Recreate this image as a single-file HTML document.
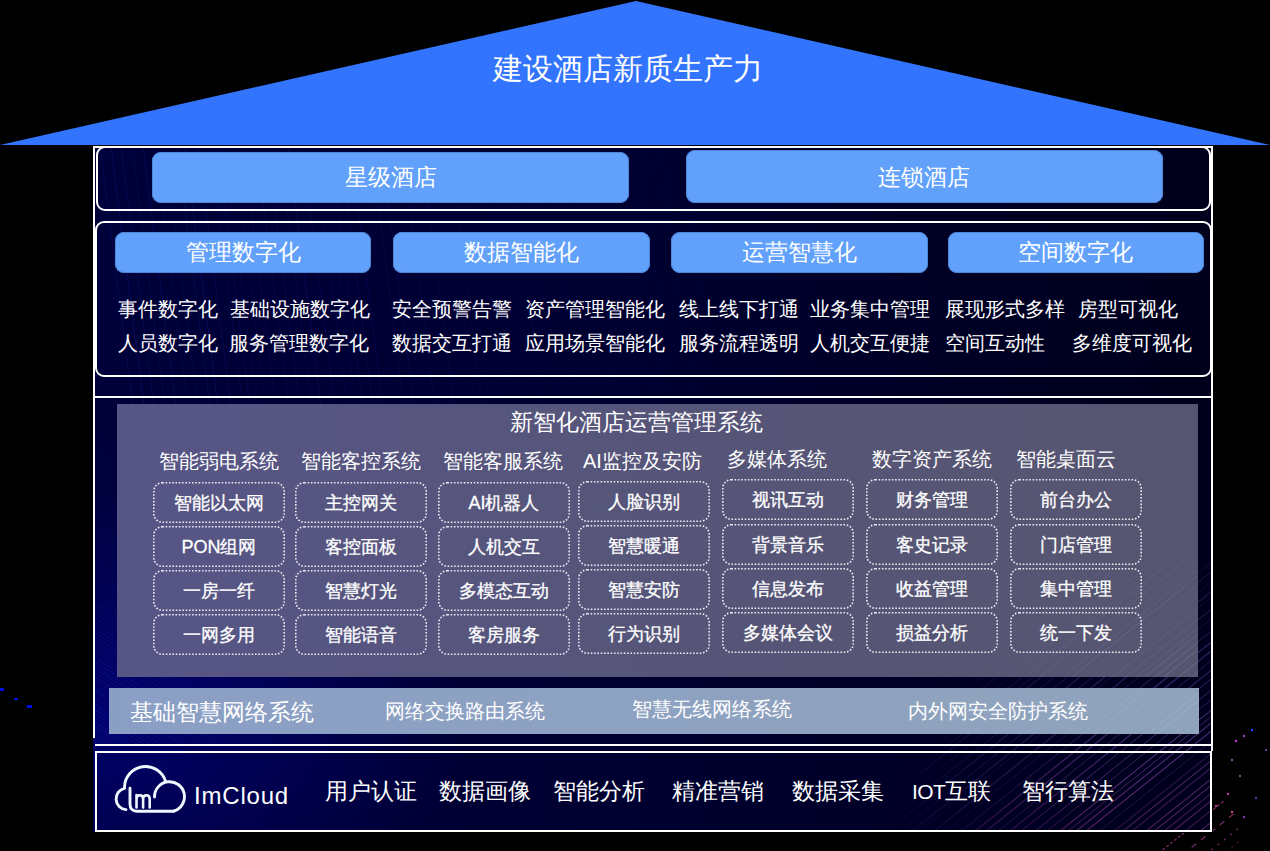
<!DOCTYPE html>
<html><head><meta charset="utf-8">
<style>
*{margin:0;padding:0;box-sizing:border-box}
html,body{width:1270px;height:851px;background:#000;overflow:hidden;position:relative;font-family:"Liberation Sans",sans-serif;color:#fff}
.a{position:absolute}
.serif{font-family:"Liberation Serif",serif}
.t{position:absolute;white-space:nowrap;line-height:1}
.btn{position:absolute;background:#62a1fb;border-radius:9px;box-shadow:inset 0 0 0 1px #4f86d6}
.box{position:absolute;width:132px;height:41px;display:flex;align-items:center;justify-content:center;font-size:18px;line-height:1;white-space:nowrap;-webkit-text-stroke:0.3px #fff}
</style></head><body>
<!-- roof -->
<svg class="a" style="left:0;top:0" width="1270" height="160">
  <polygon points="0,145 636,1 1270,145" fill="#3274fe"/>
</svg>
<div class="t serif" style="left:493px;top:54px;font-size:30px">建设酒店新质生产力</div>

<!-- frame background -->
<div class="a" style="left:93px;top:146px;width:1119px;height:686px;background:radial-gradient(ellipse 380px 230px at 10px 570px,rgba(0,0,140,0.6),rgba(0,0,140,0) 100%),linear-gradient(90deg,#00003a 0%,#000030 50%,#00001c 100%)"></div>
<svg class="a" style="left:0;top:0" width="1270" height="851">
 <defs>
  <linearGradient id="lg" gradientUnits="userSpaceOnUse" x1="0" y1="660" x2="0" y2="840"><stop offset="0" stop-color="#5a5ab8"/><stop offset="0.5" stop-color="#7a48a8"/><stop offset="1" stop-color="#a83a90"/></linearGradient>
  <radialGradient id="rg" gradientUnits="userSpaceOnUse" cx="1215" cy="835" r="330"><stop offset="0" stop-color="#fff"/><stop offset="0.4" stop-color="#aaa"/><stop offset="1" stop-color="#000"/></radialGradient>
  <mask id="mk"><rect x="0" y="0" width="1270" height="851" fill="url(#rg)"/></mask>
  <clipPath id="cin"><rect x="95" y="398" width="1116" height="433"/></clipPath>
 </defs>
 <g clip-path="url(#cin)" mask="url(#mk)" stroke="url(#lg)" opacity="0.85">
<line x1="500" y1="900" x2="925" y2="560" stroke-opacity="0.58" stroke-width="1"/>
<line x1="510" y1="900" x2="935" y2="560" stroke-opacity="0.78" stroke-width="0.9"/>
<line x1="522" y1="900" x2="947" y2="560" stroke-opacity="0.95" stroke-width="1.3"/>
<line x1="532" y1="900" x2="957" y2="560" stroke-opacity="0.58" stroke-width="1.3"/>
<line x1="543" y1="900" x2="968" y2="560" stroke-opacity="0.75" stroke-width="1.3"/>
<line x1="556" y1="900" x2="981" y2="560" stroke-opacity="0.53" stroke-width="1"/>
<line x1="570" y1="900" x2="995" y2="560" stroke-opacity="0.74" stroke-width="0.9"/>
<line x1="582" y1="900" x2="1007" y2="560" stroke-opacity="0.49" stroke-width="0.9"/>
<line x1="592" y1="900" x2="1017" y2="560" stroke-opacity="0.47" stroke-width="1.1"/>
<line x1="603" y1="900" x2="1028" y2="560" stroke-opacity="0.85" stroke-width="1.3"/>
<line x1="616" y1="900" x2="1041" y2="560" stroke-opacity="0.96" stroke-width="1.3"/>
<line x1="629" y1="900" x2="1054" y2="560" stroke-opacity="0.77" stroke-width="1"/>
<line x1="643" y1="900" x2="1068" y2="560" stroke-opacity="0.50" stroke-width="1"/>
<line x1="654" y1="900" x2="1079" y2="560" stroke-opacity="0.59" stroke-width="1.3"/>
<line x1="667" y1="900" x2="1092" y2="560" stroke-opacity="0.92" stroke-width="1.3"/>
<line x1="679" y1="900" x2="1104" y2="560" stroke-opacity="0.66" stroke-width="1.1"/>
<line x1="690" y1="900" x2="1115" y2="560" stroke-opacity="0.67" stroke-width="1"/>
<line x1="705" y1="900" x2="1130" y2="560" stroke-opacity="0.83" stroke-width="0.9"/>
<line x1="718" y1="900" x2="1143" y2="560" stroke-opacity="1.00" stroke-width="1"/>
<line x1="731" y1="900" x2="1156" y2="560" stroke-opacity="0.63" stroke-width="0.9"/>
<line x1="744" y1="900" x2="1169" y2="560" stroke-opacity="0.57" stroke-width="1.1"/>
<line x1="754" y1="900" x2="1179" y2="560" stroke-opacity="0.48" stroke-width="1.3"/>
<line x1="762" y1="900" x2="1187" y2="560" stroke-opacity="0.89" stroke-width="1.3"/>
<line x1="776" y1="900" x2="1201" y2="560" stroke-opacity="0.46" stroke-width="1.3"/>
<line x1="789" y1="900" x2="1214" y2="560" stroke-opacity="0.93" stroke-width="0.9"/>
<line x1="801" y1="900" x2="1226" y2="560" stroke-opacity="0.87" stroke-width="1.3"/>
<line x1="814" y1="900" x2="1239" y2="560" stroke-opacity="0.63" stroke-width="1.1"/>
<line x1="826" y1="900" x2="1251" y2="560" stroke-opacity="1.00" stroke-width="1.1"/>
<line x1="833" y1="900" x2="1258" y2="560" stroke-opacity="0.51" stroke-width="0.9"/>
<line x1="848" y1="900" x2="1273" y2="560" stroke-opacity="0.98" stroke-width="1.1"/>
<line x1="860" y1="900" x2="1285" y2="560" stroke-opacity="0.54" stroke-width="0.9"/>
<line x1="875" y1="900" x2="1300" y2="560" stroke-opacity="0.64" stroke-width="1.1"/>
<line x1="889" y1="900" x2="1314" y2="560" stroke-opacity="0.94" stroke-width="1.3"/>
<line x1="900" y1="900" x2="1325" y2="560" stroke-opacity="0.93" stroke-width="1.3"/>
<line x1="912" y1="900" x2="1337" y2="560" stroke-opacity="0.78" stroke-width="0.9"/>
<line x1="924" y1="900" x2="1349" y2="560" stroke-opacity="0.97" stroke-width="1.1"/>
<line x1="935" y1="900" x2="1360" y2="560" stroke-opacity="0.85" stroke-width="1"/>
<line x1="949" y1="900" x2="1374" y2="560" stroke-opacity="0.69" stroke-width="1.1"/>
<line x1="961" y1="900" x2="1386" y2="560" stroke-opacity="0.75" stroke-width="0.9"/>
<line x1="974" y1="900" x2="1399" y2="560" stroke-opacity="0.99" stroke-width="1.1"/>
<line x1="982" y1="900" x2="1407" y2="560" stroke-opacity="0.79" stroke-width="1"/>
<line x1="990" y1="900" x2="1415" y2="560" stroke-opacity="0.80" stroke-width="1.3"/>
<line x1="1000" y1="900" x2="1425" y2="560" stroke-opacity="0.95" stroke-width="1.1"/>
<line x1="1013" y1="900" x2="1438" y2="560" stroke-opacity="0.46" stroke-width="0.9"/>
<line x1="1028" y1="900" x2="1453" y2="560" stroke-opacity="0.46" stroke-width="1.1"/>
<line x1="1037" y1="900" x2="1462" y2="560" stroke-opacity="0.70" stroke-width="1.1"/>
<line x1="1046" y1="900" x2="1471" y2="560" stroke-opacity="0.55" stroke-width="1.1"/>
<line x1="1060" y1="900" x2="1485" y2="560" stroke-opacity="0.60" stroke-width="1.3"/>
<line x1="1068" y1="900" x2="1493" y2="560" stroke-opacity="0.90" stroke-width="1"/>
<line x1="1078" y1="900" x2="1503" y2="560" stroke-opacity="0.57" stroke-width="1.1"/>
<line x1="1087" y1="900" x2="1512" y2="560" stroke-opacity="0.55" stroke-width="1.3"/>
<line x1="1099" y1="900" x2="1524" y2="560" stroke-opacity="0.50" stroke-width="1.1"/>
<line x1="1114" y1="900" x2="1539" y2="560" stroke-opacity="0.82" stroke-width="1"/>
<line x1="1125" y1="900" x2="1550" y2="560" stroke-opacity="0.92" stroke-width="1"/>
<line x1="1133" y1="900" x2="1558" y2="560" stroke-opacity="0.86" stroke-width="1"/>
<line x1="1147" y1="900" x2="1572" y2="560" stroke-opacity="0.70" stroke-width="1"/>
<line x1="1161" y1="900" x2="1586" y2="560" stroke-opacity="0.47" stroke-width="1"/>
<line x1="1170" y1="900" x2="1595" y2="560" stroke-opacity="0.91" stroke-width="1"/>
<line x1="1184" y1="900" x2="1609" y2="560" stroke-opacity="0.64" stroke-width="0.9"/>
<line x1="1198" y1="900" x2="1623" y2="560" stroke-opacity="0.64" stroke-width="1"/>
<line x1="1209" y1="900" x2="1634" y2="560" stroke-opacity="0.74" stroke-width="1.1"/>
<line x1="1220" y1="900" x2="1645" y2="560" stroke-opacity="0.80" stroke-width="1.1"/>
<line x1="1230" y1="900" x2="1655" y2="560" stroke-opacity="0.68" stroke-width="1.3"/>
<line x1="1239" y1="900" x2="1664" y2="560" stroke-opacity="0.45" stroke-width="1.3"/>
 </g>
</svg>
<svg class="a" style="left:0;top:0" width="1270" height="851">
 <defs>
  <radialGradient id="rg2" gradientUnits="userSpaceOnUse" cx="95" cy="720" r="300"><stop offset="0" stop-color="#fff"/><stop offset="1" stop-color="#000"/></radialGradient>
  <mask id="mk2"><rect width="1270" height="851" fill="url(#rg2)"/></mask>
  <clipPath id="cfr"><rect x="95" y="148" width="1116" height="596"/></clipPath>
 </defs>
 <g clip-path="url(#cfr)">
 <g stroke="#2a2ab0" stroke-width="1" opacity="0.45"><line x1="100" y1="146" x2="160" y2="620" stroke-opacity="0.41"/><line x1="111" y1="146" x2="171" y2="620" stroke-opacity="0.56"/><line x1="121" y1="146" x2="181" y2="620" stroke-opacity="0.41"/><line x1="132" y1="146" x2="192" y2="620" stroke-opacity="0.30"/><line x1="143" y1="146" x2="203" y2="620" stroke-opacity="0.44"/><line x1="155" y1="146" x2="215" y2="620" stroke-opacity="0.26"/><line x1="165" y1="146" x2="225" y2="620" stroke-opacity="0.26"/><line x1="177" y1="146" x2="237" y2="620" stroke-opacity="0.44"/><line x1="185" y1="146" x2="245" y2="620" stroke-opacity="0.52"/><line x1="198" y1="146" x2="258" y2="620" stroke-opacity="0.41"/><line x1="210" y1="146" x2="270" y2="620" stroke-opacity="0.26"/><line x1="217" y1="146" x2="277" y2="620" stroke-opacity="0.36"/><line x1="224" y1="146" x2="284" y2="620" stroke-opacity="0.26"/><line x1="233" y1="146" x2="293" y2="620" stroke-opacity="0.21"/><line x1="243" y1="146" x2="303" y2="620" stroke-opacity="0.32"/><line x1="256" y1="146" x2="316" y2="620" stroke-opacity="0.34"/><line x1="267" y1="146" x2="327" y2="620" stroke-opacity="0.32"/><line x1="279" y1="146" x2="339" y2="620" stroke-opacity="0.31"/><line x1="288" y1="146" x2="348" y2="620" stroke-opacity="0.44"/><line x1="302" y1="146" x2="362" y2="620" stroke-opacity="0.39"/><line x1="314" y1="146" x2="374" y2="620" stroke-opacity="0.25"/><line x1="323" y1="146" x2="383" y2="620" stroke-opacity="0.24"/><line x1="330" y1="146" x2="390" y2="620" stroke-opacity="0.35"/><line x1="340" y1="146" x2="400" y2="620" stroke-opacity="0.36"/><line x1="350" y1="146" x2="410" y2="620" stroke-opacity="0.38"/><line x1="362" y1="146" x2="422" y2="620" stroke-opacity="0.16"/><line x1="371" y1="146" x2="431" y2="620" stroke-opacity="0.35"/><line x1="381" y1="146" x2="441" y2="620" stroke-opacity="0.35"/><line x1="391" y1="146" x2="451" y2="620" stroke-opacity="0.16"/><line x1="402" y1="146" x2="462" y2="620" stroke-opacity="0.30"/><line x1="411" y1="146" x2="471" y2="620" stroke-opacity="0.16"/><line x1="421" y1="146" x2="481" y2="620" stroke-opacity="0.32"/><line x1="433" y1="146" x2="493" y2="620" stroke-opacity="0.15"/><line x1="442" y1="146" x2="502" y2="620" stroke-opacity="0.15"/><line x1="449" y1="146" x2="509" y2="620" stroke-opacity="0.27"/><line x1="457" y1="146" x2="517" y2="620" stroke-opacity="0.22"/><line x1="467" y1="146" x2="527" y2="620" stroke-opacity="0.15"/><line x1="480" y1="146" x2="540" y2="620" stroke-opacity="0.14"/><line x1="491" y1="146" x2="551" y2="620" stroke-opacity="0.13"/><line x1="501" y1="146" x2="561" y2="620" stroke-opacity="0.14"/><line x1="510" y1="146" x2="570" y2="620" stroke-opacity="0.24"/><line x1="523" y1="146" x2="583" y2="620" stroke-opacity="0.14"/><line x1="536" y1="146" x2="596" y2="620" stroke-opacity="0.12"/><line x1="545" y1="146" x2="605" y2="620" stroke-opacity="0.20"/><line x1="557" y1="146" x2="617" y2="620" stroke-opacity="0.10"/><line x1="571" y1="146" x2="631" y2="620" stroke-opacity="0.11"/><line x1="580" y1="146" x2="640" y2="620" stroke-opacity="0.16"/><line x1="589" y1="146" x2="649" y2="620" stroke-opacity="0.11"/><line x1="597" y1="146" x2="657" y2="620" stroke-opacity="0.08"/><line x1="608" y1="146" x2="668" y2="620" stroke-opacity="0.09"/><line x1="619" y1="146" x2="679" y2="620" stroke-opacity="0.10"/><line x1="629" y1="146" x2="689" y2="620" stroke-opacity="0.14"/><line x1="639" y1="146" x2="699" y2="620" stroke-opacity="0.10"/><line x1="652" y1="146" x2="712" y2="620" stroke-opacity="0.07"/><line x1="661" y1="146" x2="721" y2="620" stroke-opacity="0.11"/><line x1="673" y1="146" x2="733" y2="620" stroke-opacity="0.06"/><line x1="682" y1="146" x2="742" y2="620" stroke-opacity="0.09"/><line x1="695" y1="146" x2="755" y2="620" stroke-opacity="0.05"/><line x1="709" y1="146" x2="769" y2="620" stroke-opacity="0.07"/><line x1="720" y1="146" x2="780" y2="620" stroke-opacity="0.05"/><line x1="728" y1="146" x2="788" y2="620" stroke-opacity="0.03"/><line x1="742" y1="146" x2="802" y2="620" stroke-opacity="0.03"/><line x1="753" y1="146" x2="813" y2="620" stroke-opacity="0.02"/><line x1="766" y1="146" x2="826" y2="620" stroke-opacity="0.02"/><line x1="775" y1="146" x2="835" y2="620" stroke-opacity="0.01"/><line x1="787" y1="146" x2="847" y2="620" stroke-opacity="0.00"/><line x1="796" y1="146" x2="856" y2="620" stroke-opacity="0.00"/></g>
 <g stroke="#1a24c8" stroke-width="1" mask="url(#mk2)" opacity="0.5"><line x1="95" y1="169" x2="700" y2="544" stroke-opacity="0.71"/><line x1="95" y1="173" x2="700" y2="548" stroke-opacity="0.80"/><line x1="95" y1="177" x2="700" y2="553" stroke-opacity="0.77"/><line x1="95" y1="182" x2="700" y2="557" stroke-opacity="0.41"/><line x1="95" y1="186" x2="700" y2="561" stroke-opacity="0.87"/><line x1="95" y1="189" x2="700" y2="565" stroke-opacity="0.85"/><line x1="95" y1="193" x2="700" y2="568" stroke-opacity="0.63"/><line x1="95" y1="196" x2="700" y2="571" stroke-opacity="0.67"/><line x1="95" y1="200" x2="700" y2="575" stroke-opacity="0.41"/><line x1="95" y1="203" x2="700" y2="578" stroke-opacity="0.54"/><line x1="95" y1="208" x2="700" y2="583" stroke-opacity="0.78"/><line x1="95" y1="211" x2="700" y2="586" stroke-opacity="0.80"/><line x1="95" y1="214" x2="700" y2="589" stroke-opacity="0.71"/><line x1="95" y1="217" x2="700" y2="592" stroke-opacity="0.40"/><line x1="95" y1="222" x2="700" y2="597" stroke-opacity="0.50"/><line x1="95" y1="225" x2="700" y2="600" stroke-opacity="0.89"/><line x1="95" y1="229" x2="700" y2="604" stroke-opacity="0.54"/><line x1="95" y1="234" x2="700" y2="609" stroke-opacity="0.67"/><line x1="95" y1="238" x2="700" y2="613" stroke-opacity="0.50"/><line x1="95" y1="242" x2="700" y2="617" stroke-opacity="0.75"/><line x1="95" y1="246" x2="700" y2="622" stroke-opacity="0.85"/><line x1="95" y1="250" x2="700" y2="625" stroke-opacity="0.58"/><line x1="95" y1="253" x2="700" y2="628" stroke-opacity="0.47"/><line x1="95" y1="256" x2="700" y2="631" stroke-opacity="0.55"/><line x1="95" y1="260" x2="700" y2="635" stroke-opacity="0.40"/><line x1="95" y1="264" x2="700" y2="639" stroke-opacity="0.57"/><line x1="95" y1="268" x2="700" y2="643" stroke-opacity="0.81"/><line x1="95" y1="271" x2="700" y2="646" stroke-opacity="0.56"/><line x1="95" y1="275" x2="700" y2="650" stroke-opacity="0.75"/><line x1="95" y1="278" x2="700" y2="653" stroke-opacity="0.89"/><line x1="95" y1="281" x2="700" y2="656" stroke-opacity="0.77"/><line x1="95" y1="285" x2="700" y2="661" stroke-opacity="0.41"/><line x1="95" y1="290" x2="700" y2="665" stroke-opacity="0.58"/><line x1="95" y1="294" x2="700" y2="669" stroke-opacity="0.40"/><line x1="95" y1="297" x2="700" y2="672" stroke-opacity="0.49"/><line x1="95" y1="301" x2="700" y2="676" stroke-opacity="0.50"/><line x1="95" y1="305" x2="700" y2="680" stroke-opacity="0.86"/><line x1="95" y1="310" x2="700" y2="685" stroke-opacity="0.57"/><line x1="95" y1="313" x2="700" y2="688" stroke-opacity="0.66"/><line x1="95" y1="317" x2="700" y2="692" stroke-opacity="0.45"/><line x1="95" y1="321" x2="700" y2="697" stroke-opacity="0.80"/><line x1="95" y1="326" x2="700" y2="701" stroke-opacity="0.42"/><line x1="95" y1="330" x2="700" y2="705" stroke-opacity="0.45"/><line x1="95" y1="334" x2="700" y2="709" stroke-opacity="0.71"/><line x1="95" y1="338" x2="700" y2="713" stroke-opacity="0.57"/><line x1="95" y1="342" x2="700" y2="717" stroke-opacity="0.67"/><line x1="95" y1="346" x2="700" y2="721" stroke-opacity="0.56"/><line x1="95" y1="349" x2="700" y2="724" stroke-opacity="0.44"/><line x1="95" y1="352" x2="700" y2="727" stroke-opacity="0.74"/><line x1="95" y1="357" x2="700" y2="732" stroke-opacity="0.48"/><line x1="95" y1="360" x2="700" y2="735" stroke-opacity="0.89"/><line x1="95" y1="364" x2="700" y2="739" stroke-opacity="0.60"/><line x1="95" y1="367" x2="700" y2="742" stroke-opacity="0.70"/><line x1="95" y1="371" x2="700" y2="746" stroke-opacity="0.63"/><line x1="95" y1="375" x2="700" y2="750" stroke-opacity="0.43"/><line x1="95" y1="379" x2="700" y2="754" stroke-opacity="0.42"/><line x1="95" y1="383" x2="700" y2="758" stroke-opacity="0.82"/><line x1="95" y1="386" x2="700" y2="761" stroke-opacity="0.77"/><line x1="95" y1="391" x2="700" y2="766" stroke-opacity="0.72"/><line x1="95" y1="395" x2="700" y2="770" stroke-opacity="0.45"/><line x1="95" y1="399" x2="700" y2="774" stroke-opacity="0.47"/><line x1="95" y1="403" x2="700" y2="778" stroke-opacity="0.55"/><line x1="95" y1="406" x2="700" y2="782" stroke-opacity="0.90"/><line x1="95" y1="411" x2="700" y2="786" stroke-opacity="0.89"/><line x1="95" y1="414" x2="700" y2="790" stroke-opacity="0.64"/><line x1="95" y1="419" x2="700" y2="794" stroke-opacity="0.64"/><line x1="95" y1="422" x2="700" y2="797" stroke-opacity="0.60"/><line x1="95" y1="425" x2="700" y2="800" stroke-opacity="0.59"/><line x1="95" y1="430" x2="700" y2="805" stroke-opacity="0.88"/><line x1="95" y1="434" x2="700" y2="809" stroke-opacity="0.65"/><line x1="95" y1="437" x2="700" y2="812" stroke-opacity="0.44"/><line x1="95" y1="441" x2="700" y2="816" stroke-opacity="0.79"/><line x1="95" y1="445" x2="700" y2="820" stroke-opacity="0.58"/><line x1="95" y1="449" x2="700" y2="824" stroke-opacity="0.79"/><line x1="95" y1="453" x2="700" y2="828" stroke-opacity="0.73"/><line x1="95" y1="457" x2="700" y2="832" stroke-opacity="0.58"/><line x1="95" y1="461" x2="700" y2="836" stroke-opacity="0.54"/><line x1="95" y1="465" x2="700" y2="840" stroke-opacity="0.78"/><line x1="95" y1="469" x2="700" y2="844" stroke-opacity="0.55"/><line x1="95" y1="473" x2="700" y2="849" stroke-opacity="0.72"/><line x1="95" y1="477" x2="700" y2="852" stroke-opacity="0.41"/><line x1="95" y1="481" x2="700" y2="856" stroke-opacity="0.53"/><line x1="95" y1="485" x2="700" y2="860" stroke-opacity="0.63"/><line x1="95" y1="489" x2="700" y2="864" stroke-opacity="0.72"/><line x1="95" y1="494" x2="700" y2="869" stroke-opacity="0.57"/><line x1="95" y1="497" x2="700" y2="873" stroke-opacity="0.77"/><line x1="95" y1="502" x2="700" y2="877" stroke-opacity="0.58"/><line x1="95" y1="506" x2="700" y2="881" stroke-opacity="0.83"/><line x1="95" y1="510" x2="700" y2="885" stroke-opacity="0.89"/><line x1="95" y1="514" x2="700" y2="890" stroke-opacity="0.66"/><line x1="95" y1="518" x2="700" y2="893" stroke-opacity="0.48"/><line x1="95" y1="523" x2="700" y2="898" stroke-opacity="0.87"/><line x1="95" y1="526" x2="700" y2="901" stroke-opacity="0.75"/><line x1="95" y1="530" x2="700" y2="905" stroke-opacity="0.77"/><line x1="95" y1="534" x2="700" y2="909" stroke-opacity="0.79"/><line x1="95" y1="537" x2="700" y2="913" stroke-opacity="0.73"/><line x1="95" y1="541" x2="700" y2="916" stroke-opacity="0.71"/><line x1="95" y1="545" x2="700" y2="920" stroke-opacity="0.72"/><line x1="95" y1="549" x2="700" y2="924" stroke-opacity="0.41"/><line x1="95" y1="553" x2="700" y2="928" stroke-opacity="0.62"/><line x1="95" y1="557" x2="700" y2="932" stroke-opacity="0.51"/><line x1="95" y1="561" x2="700" y2="936" stroke-opacity="0.72"/><line x1="95" y1="564" x2="700" y2="939" stroke-opacity="0.64"/><line x1="95" y1="567" x2="700" y2="942" stroke-opacity="0.43"/><line x1="95" y1="570" x2="700" y2="945" stroke-opacity="0.56"/><line x1="95" y1="573" x2="700" y2="949" stroke-opacity="0.50"/><line x1="95" y1="576" x2="700" y2="952" stroke-opacity="0.63"/><line x1="95" y1="580" x2="700" y2="955" stroke-opacity="0.71"/><line x1="95" y1="584" x2="700" y2="959" stroke-opacity="0.52"/><line x1="95" y1="588" x2="700" y2="963" stroke-opacity="0.40"/><line x1="95" y1="592" x2="700" y2="967" stroke-opacity="0.54"/><line x1="95" y1="596" x2="700" y2="971" stroke-opacity="0.46"/><line x1="95" y1="600" x2="700" y2="975" stroke-opacity="0.59"/><line x1="95" y1="603" x2="700" y2="978" stroke-opacity="0.71"/><line x1="95" y1="606" x2="700" y2="981" stroke-opacity="0.67"/><line x1="95" y1="609" x2="700" y2="985" stroke-opacity="0.69"/><line x1="95" y1="614" x2="700" y2="989" stroke-opacity="0.81"/><line x1="95" y1="618" x2="700" y2="993" stroke-opacity="0.81"/><line x1="95" y1="622" x2="700" y2="997" stroke-opacity="0.58"/><line x1="95" y1="625" x2="700" y2="1000" stroke-opacity="0.70"/><line x1="95" y1="629" x2="700" y2="1004" stroke-opacity="0.88"/><line x1="95" y1="633" x2="700" y2="1008" stroke-opacity="0.70"/><line x1="95" y1="637" x2="700" y2="1012" stroke-opacity="0.85"/><line x1="95" y1="640" x2="700" y2="1015" stroke-opacity="0.45"/><line x1="95" y1="643" x2="700" y2="1018" stroke-opacity="0.71"/><line x1="95" y1="647" x2="700" y2="1022" stroke-opacity="0.71"/><line x1="95" y1="651" x2="700" y2="1026" stroke-opacity="0.59"/><line x1="95" y1="655" x2="700" y2="1030" stroke-opacity="0.51"/><line x1="95" y1="658" x2="700" y2="1033" stroke-opacity="0.89"/><line x1="95" y1="662" x2="700" y2="1037" stroke-opacity="0.88"/><line x1="95" y1="666" x2="700" y2="1041" stroke-opacity="0.70"/><line x1="95" y1="669" x2="700" y2="1044" stroke-opacity="0.89"/><line x1="95" y1="673" x2="700" y2="1048" stroke-opacity="0.61"/><line x1="95" y1="677" x2="700" y2="1052" stroke-opacity="0.89"/><line x1="95" y1="680" x2="700" y2="1055" stroke-opacity="0.54"/><line x1="95" y1="684" x2="700" y2="1059" stroke-opacity="0.46"/><line x1="95" y1="688" x2="700" y2="1063" stroke-opacity="0.62"/><line x1="95" y1="691" x2="700" y2="1067" stroke-opacity="0.79"/><line x1="95" y1="696" x2="700" y2="1071" stroke-opacity="0.41"/><line x1="95" y1="699" x2="700" y2="1075" stroke-opacity="0.54"/><line x1="95" y1="704" x2="700" y2="1079" stroke-opacity="0.79"/><line x1="95" y1="707" x2="700" y2="1082" stroke-opacity="0.53"/><line x1="95" y1="710" x2="700" y2="1086" stroke-opacity="0.89"/><line x1="95" y1="714" x2="700" y2="1089" stroke-opacity="0.70"/><line x1="95" y1="718" x2="700" y2="1093" stroke-opacity="0.72"/><line x1="95" y1="722" x2="700" y2="1097" stroke-opacity="0.77"/><line x1="95" y1="725" x2="700" y2="1100" stroke-opacity="0.78"/><line x1="95" y1="728" x2="700" y2="1103" stroke-opacity="0.67"/><line x1="95" y1="732" x2="700" y2="1107" stroke-opacity="0.55"/><line x1="95" y1="735" x2="700" y2="1111" stroke-opacity="0.63"/><line x1="95" y1="739" x2="700" y2="1114" stroke-opacity="0.77"/><line x1="95" y1="743" x2="700" y2="1118" stroke-opacity="0.42"/><line x1="95" y1="746" x2="700" y2="1121" stroke-opacity="0.63"/><line x1="95" y1="751" x2="700" y2="1126" stroke-opacity="0.84"/><line x1="95" y1="754" x2="700" y2="1130" stroke-opacity="0.41"/><line x1="95" y1="759" x2="700" y2="1134" stroke-opacity="0.61"/><line x1="95" y1="762" x2="700" y2="1138" stroke-opacity="0.75"/><line x1="95" y1="766" x2="700" y2="1142" stroke-opacity="0.64"/><line x1="95" y1="771" x2="700" y2="1146" stroke-opacity="0.59"/><line x1="95" y1="774" x2="700" y2="1149" stroke-opacity="0.83"/><line x1="95" y1="778" x2="700" y2="1153" stroke-opacity="0.55"/><line x1="95" y1="782" x2="700" y2="1157" stroke-opacity="0.43"/><line x1="95" y1="786" x2="700" y2="1161" stroke-opacity="0.75"/><line x1="95" y1="790" x2="700" y2="1165" stroke-opacity="0.54"/><line x1="95" y1="794" x2="700" y2="1169" stroke-opacity="0.86"/><line x1="95" y1="797" x2="700" y2="1172" stroke-opacity="0.64"/><line x1="95" y1="801" x2="700" y2="1176" stroke-opacity="0.65"/><line x1="95" y1="805" x2="700" y2="1180" stroke-opacity="0.48"/><line x1="95" y1="808" x2="700" y2="1183" stroke-opacity="0.81"/><line x1="95" y1="811" x2="700" y2="1187" stroke-opacity="0.52"/><line x1="95" y1="816" x2="700" y2="1191" stroke-opacity="0.80"/><line x1="95" y1="820" x2="700" y2="1195" stroke-opacity="0.41"/><line x1="95" y1="824" x2="700" y2="1199" stroke-opacity="0.89"/><line x1="95" y1="828" x2="700" y2="1203" stroke-opacity="0.75"/><line x1="95" y1="831" x2="700" y2="1206" stroke-opacity="0.82"/><line x1="95" y1="835" x2="700" y2="1210" stroke-opacity="0.72"/><line x1="95" y1="839" x2="700" y2="1214" stroke-opacity="0.76"/><line x1="95" y1="842" x2="700" y2="1217" stroke-opacity="0.55"/><line x1="95" y1="847" x2="700" y2="1222" stroke-opacity="0.47"/><line x1="95" y1="851" x2="700" y2="1226" stroke-opacity="0.61"/><line x1="95" y1="854" x2="700" y2="1229" stroke-opacity="0.71"/><line x1="95" y1="857" x2="700" y2="1232" stroke-opacity="0.45"/><line x1="95" y1="861" x2="700" y2="1236" stroke-opacity="0.44"/><line x1="95" y1="864" x2="700" y2="1239" stroke-opacity="0.69"/><line x1="95" y1="868" x2="700" y2="1243" stroke-opacity="0.84"/><line x1="95" y1="871" x2="700" y2="1246" stroke-opacity="0.62"/><line x1="95" y1="874" x2="700" y2="1249" stroke-opacity="0.70"/><line x1="95" y1="878" x2="700" y2="1253" stroke-opacity="0.87"/><line x1="95" y1="882" x2="700" y2="1257" stroke-opacity="0.43"/><line x1="95" y1="886" x2="700" y2="1261" stroke-opacity="0.48"/><line x1="95" y1="890" x2="700" y2="1265" stroke-opacity="0.65"/><line x1="95" y1="894" x2="700" y2="1269" stroke-opacity="0.68"/><line x1="95" y1="898" x2="700" y2="1273" stroke-opacity="0.53"/><line x1="95" y1="902" x2="700" y2="1277" stroke-opacity="0.53"/><line x1="95" y1="906" x2="700" y2="1281" stroke-opacity="0.66"/><line x1="95" y1="909" x2="700" y2="1284" stroke-opacity="0.52"/><line x1="95" y1="913" x2="700" y2="1288" stroke-opacity="0.77"/><line x1="95" y1="916" x2="700" y2="1291" stroke-opacity="0.76"/><line x1="95" y1="920" x2="700" y2="1295" stroke-opacity="0.44"/><line x1="95" y1="924" x2="700" y2="1299" stroke-opacity="0.45"/><line x1="95" y1="927" x2="700" y2="1302" stroke-opacity="0.70"/><line x1="95" y1="930" x2="700" y2="1306" stroke-opacity="0.84"/><line x1="95" y1="934" x2="700" y2="1309" stroke-opacity="0.56"/><line x1="95" y1="938" x2="700" y2="1313" stroke-opacity="0.41"/><line x1="95" y1="942" x2="700" y2="1318" stroke-opacity="0.43"/><line x1="95" y1="946" x2="700" y2="1321" stroke-opacity="0.88"/><line x1="95" y1="950" x2="700" y2="1325" stroke-opacity="0.51"/><line x1="95" y1="953" x2="700" y2="1328" stroke-opacity="0.89"/><line x1="95" y1="957" x2="700" y2="1332" stroke-opacity="0.81"/><line x1="95" y1="960" x2="700" y2="1335" stroke-opacity="0.71"/><line x1="95" y1="964" x2="700" y2="1339" stroke-opacity="0.52"/><line x1="95" y1="967" x2="700" y2="1342" stroke-opacity="0.71"/><line x1="95" y1="971" x2="700" y2="1346" stroke-opacity="0.59"/><line x1="95" y1="974" x2="700" y2="1349" stroke-opacity="0.82"/><line x1="95" y1="978" x2="700" y2="1353" stroke-opacity="0.80"/><line x1="95" y1="981" x2="700" y2="1357" stroke-opacity="0.83"/><line x1="95" y1="985" x2="700" y2="1360" stroke-opacity="0.70"/><line x1="95" y1="989" x2="700" y2="1364" stroke-opacity="0.77"/><line x1="95" y1="993" x2="700" y2="1368" stroke-opacity="0.45"/><line x1="95" y1="996" x2="700" y2="1371" stroke-opacity="0.50"/><line x1="95" y1="999" x2="700" y2="1374" stroke-opacity="0.84"/><line x1="95" y1="1003" x2="700" y2="1378" stroke-opacity="0.78"/><line x1="95" y1="1006" x2="700" y2="1381" stroke-opacity="0.64"/><line x1="95" y1="1010" x2="700" y2="1385" stroke-opacity="0.71"/><line x1="95" y1="1014" x2="700" y2="1389" stroke-opacity="0.63"/><line x1="95" y1="1017" x2="700" y2="1392" stroke-opacity="0.48"/><line x1="95" y1="1020" x2="700" y2="1395" stroke-opacity="0.59"/><line x1="95" y1="1023" x2="700" y2="1399" stroke-opacity="0.84"/><line x1="95" y1="1027" x2="700" y2="1402" stroke-opacity="0.53"/><line x1="95" y1="1030" x2="700" y2="1405" stroke-opacity="0.48"/><line x1="95" y1="1034" x2="700" y2="1409" stroke-opacity="0.52"/><line x1="95" y1="1037" x2="700" y2="1412" stroke-opacity="0.42"/><line x1="95" y1="1042" x2="700" y2="1417" stroke-opacity="0.58"/><line x1="95" y1="1046" x2="700" y2="1421" stroke-opacity="0.74"/><line x1="95" y1="1050" x2="700" y2="1425" stroke-opacity="0.64"/><line x1="95" y1="1055" x2="700" y2="1430" stroke-opacity="0.46"/><line x1="95" y1="1059" x2="700" y2="1434" stroke-opacity="0.55"/><line x1="95" y1="1063" x2="700" y2="1438" stroke-opacity="0.76"/><line x1="95" y1="1066" x2="700" y2="1441" stroke-opacity="0.50"/><line x1="95" y1="1069" x2="700" y2="1444" stroke-opacity="0.52"/><line x1="95" y1="1072" x2="700" y2="1447" stroke-opacity="0.60"/><line x1="95" y1="1076" x2="700" y2="1451" stroke-opacity="0.58"/><line x1="95" y1="1080" x2="700" y2="1455" stroke-opacity="0.63"/><line x1="95" y1="1083" x2="700" y2="1458" stroke-opacity="0.77"/><line x1="95" y1="1087" x2="700" y2="1462" stroke-opacity="0.48"/><line x1="95" y1="1091" x2="700" y2="1466" stroke-opacity="0.74"/><line x1="95" y1="1095" x2="700" y2="1470" stroke-opacity="0.72"/><line x1="95" y1="1099" x2="700" y2="1474" stroke-opacity="0.89"/><line x1="95" y1="1102" x2="700" y2="1477" stroke-opacity="0.43"/><line x1="95" y1="1106" x2="700" y2="1481" stroke-opacity="0.61"/><line x1="95" y1="1109" x2="700" y2="1484" stroke-opacity="0.67"/><line x1="95" y1="1114" x2="700" y2="1489" stroke-opacity="0.66"/><line x1="95" y1="1117" x2="700" y2="1492" stroke-opacity="0.45"/><line x1="95" y1="1120" x2="700" y2="1495" stroke-opacity="0.85"/><line x1="95" y1="1124" x2="700" y2="1499" stroke-opacity="0.87"/><line x1="95" y1="1127" x2="700" y2="1502" stroke-opacity="0.52"/><line x1="95" y1="1130" x2="700" y2="1505" stroke-opacity="0.60"/><line x1="95" y1="1133" x2="700" y2="1508" stroke-opacity="0.53"/><line x1="95" y1="1137" x2="700" y2="1512" stroke-opacity="0.55"/></g>
 </g>
</svg>
<!-- outer frame line -->
<div class="a" style="left:93px;top:146px;width:1120px;height:592px;border:2px solid #fff;border-bottom:none"></div>

<!-- section 1 -->
<div class="a" style="left:96px;top:146px;width:1115px;height:65px;border:2px solid #fff;border-radius:9px"></div>
<div class="btn" style="left:152px;top:152px;width:477px;height:51px"></div>
<div class="btn" style="left:686px;top:150px;width:477px;height:53px"></div>
<div class="t serif" style="left:345px;top:166px;font-size:23px">星级酒店</div>
<div class="t serif" style="left:878px;top:166px;font-size:23px">连锁酒店</div>

<!-- section 2 -->
<div class="a" style="left:95px;top:221px;width:1117px;height:156px;border:2px solid #fff;border-radius:9px"></div>
<div class="btn" style="left:115px;top:232px;width:256px;height:41px"></div>
<div class="btn" style="left:393px;top:232px;width:257px;height:41px"></div>
<div class="btn" style="left:671px;top:232px;width:257px;height:41px"></div>
<div class="btn" style="left:948px;top:232px;width:256px;height:41px"></div>
<div class="t serif" style="left:186px;top:241px;font-size:23px">管理数字化</div>
<div class="t serif" style="left:464px;top:241px;font-size:23px">数据智能化</div>
<div class="t serif" style="left:742px;top:241px;font-size:23px">运营智慧化</div>
<div class="t serif" style="left:1018px;top:241px;font-size:23px">空间数字化</div>

<div class="t serif" style="left:118px;top:299px;font-size:20px">事件数字化</div>
<div class="t serif" style="left:230px;top:299px;font-size:20px">基础设施数字化</div>
<div class="t serif" style="left:118px;top:333px;font-size:20px">人员数字化</div>
<div class="t serif" style="left:229px;top:333px;font-size:20px">服务管理数字化</div>
<div class="t serif" style="left:392px;top:299px;font-size:20px">安全预警告警</div>
<div class="t serif" style="left:525px;top:299px;font-size:20px">资产管理智能化</div>
<div class="t serif" style="left:392px;top:333px;font-size:20px">数据交互打通</div>
<div class="t serif" style="left:525px;top:333px;font-size:20px">应用场景智能化</div>
<div class="t serif" style="left:679px;top:299px;font-size:20px">线上线下打通</div>
<div class="t serif" style="left:810px;top:299px;font-size:20px">业务集中管理</div>
<div class="t serif" style="left:679px;top:333px;font-size:20px">服务流程透明</div>
<div class="t serif" style="left:810px;top:333px;font-size:20px">人机交互便捷</div>
<div class="t serif" style="left:945px;top:299px;font-size:20px">展现形式多样</div>
<div class="t serif" style="left:1078px;top:299px;font-size:20px">房型可视化</div>
<div class="t serif" style="left:945px;top:333px;font-size:20px">空间互动性</div>
<div class="t serif" style="left:1072px;top:333px;font-size:20px">多维度可视化</div>

<!-- section 3 -->
<div class="a" style="left:95px;top:396px;width:1117px;height:2px;background:#fff"></div>
<div class="a" style="left:117px;top:404px;width:1081px;height:273px;background:linear-gradient(90deg,#575586 0%,#56557a 45%,#565570 100%)"></div>
<div class="t" style="left:510px;top:411px;font-size:23px">新智化酒店运营管理系统</div>
<div class="t" style="left:159px;top:451px;font-size:20px">智能弱电系统</div>
<div class="t" style="left:301px;top:451px;font-size:20px">智能客控系统</div>
<div class="t" style="left:443px;top:451px;font-size:20px">智能客服系统</div>
<div class="t" style="left:583px;top:451px;font-size:20px">AI监控及安防</div>
<div class="t" style="left:727px;top:449px;font-size:20px">多媒体系统</div>
<div class="t" style="left:872px;top:449px;font-size:20px">数字资产系统</div>
<div class="t" style="left:1016px;top:449px;font-size:20px">智能桌面云</div>


<svg class="a" style="left:0;top:0" width="1270" height="851"><g fill="none" stroke="#ececf4" stroke-width="1.6" stroke-dasharray="1.6 1.7" stroke-linecap="butt"><rect x="153.8" y="482.8" width="130.4" height="39.4" rx="8.5"/><rect x="153.8" y="526.8" width="130.4" height="39.4" rx="8.5"/><rect x="153.8" y="570.8" width="130.4" height="39.4" rx="8.5"/><rect x="153.8" y="614.8" width="130.4" height="39.4" rx="8.5"/><rect x="295.8" y="482.8" width="130.4" height="39.4" rx="8.5"/><rect x="295.8" y="526.8" width="130.4" height="39.4" rx="8.5"/><rect x="295.8" y="570.8" width="130.4" height="39.4" rx="8.5"/><rect x="295.8" y="614.8" width="130.4" height="39.4" rx="8.5"/><rect x="438.8" y="482.8" width="130.4" height="39.4" rx="8.5"/><rect x="438.8" y="526.8" width="130.4" height="39.4" rx="8.5"/><rect x="438.8" y="570.8" width="130.4" height="39.4" rx="8.5"/><rect x="438.8" y="614.8" width="130.4" height="39.4" rx="8.5"/><rect x="578.8" y="481.8" width="130.4" height="39.4" rx="8.5"/><rect x="578.8" y="525.8" width="130.4" height="39.4" rx="8.5"/><rect x="578.8" y="569.8" width="130.4" height="39.4" rx="8.5"/><rect x="578.8" y="613.8" width="130.4" height="39.4" rx="8.5"/><rect x="722.8" y="479.8" width="130.4" height="39.4" rx="8.5"/><rect x="722.8" y="524.8" width="130.4" height="39.4" rx="8.5"/><rect x="722.8" y="568.8" width="130.4" height="39.4" rx="8.5"/><rect x="722.8" y="612.8" width="130.4" height="39.4" rx="8.5"/><rect x="866.8" y="479.8" width="130.4" height="39.4" rx="8.5"/><rect x="866.8" y="524.8" width="130.4" height="39.4" rx="8.5"/><rect x="866.8" y="568.8" width="130.4" height="39.4" rx="8.5"/><rect x="866.8" y="612.8" width="130.4" height="39.4" rx="8.5"/><rect x="1010.8" y="479.8" width="130.4" height="39.4" rx="8.5"/><rect x="1010.8" y="524.8" width="130.4" height="39.4" rx="8.5"/><rect x="1010.8" y="568.8" width="130.4" height="39.4" rx="8.5"/><rect x="1010.8" y="612.8" width="130.4" height="39.4" rx="8.5"/></g></svg>
<div class="box" style="left:153px;top:482px">智能以太网</div>
<div class="box" style="left:153px;top:526px">PON组网</div>
<div class="box" style="left:153px;top:570px">一房一纤</div>
<div class="box" style="left:153px;top:614px">一网多用</div>
<div class="box" style="left:295px;top:482px">主控网关</div>
<div class="box" style="left:295px;top:526px">客控面板</div>
<div class="box" style="left:295px;top:570px">智慧灯光</div>
<div class="box" style="left:295px;top:614px">智能语音</div>
<div class="box" style="left:438px;top:482px">AI机器人</div>
<div class="box" style="left:438px;top:526px">人机交互</div>
<div class="box" style="left:438px;top:570px">多模态互动</div>
<div class="box" style="left:438px;top:614px">客房服务</div>
<div class="box" style="left:578px;top:481px">人脸识别</div>
<div class="box" style="left:578px;top:525px">智慧暖通</div>
<div class="box" style="left:578px;top:569px">智慧安防</div>
<div class="box" style="left:578px;top:613px">行为识别</div>
<div class="box" style="left:722px;top:479px">视讯互动</div>
<div class="box" style="left:722px;top:524px">背景音乐</div>
<div class="box" style="left:722px;top:568px">信息发布</div>
<div class="box" style="left:722px;top:612px">多媒体会议</div>
<div class="box" style="left:866px;top:479px">财务管理</div>
<div class="box" style="left:866px;top:524px">客史记录</div>
<div class="box" style="left:866px;top:568px">收益管理</div>
<div class="box" style="left:866px;top:612px">损益分析</div>
<div class="box" style="left:1010px;top:479px">前台办公</div>
<div class="box" style="left:1010px;top:524px">门店管理</div>
<div class="box" style="left:1010px;top:568px">集中管理</div>
<div class="box" style="left:1010px;top:612px">统一下发</div>

<!-- section 4 -->
<div class="a" style="left:109px;top:688px;width:1090px;height:46px;background:linear-gradient(90deg,#8b9fc6,#8ea2c0 60%,#90a3bc)"></div>
<svg class="a" style="left:0;top:0" width="1270" height="851">
 <defs>
  <radialGradient id="rg3" gradientUnits="userSpaceOnUse" cx="1215" cy="760" r="260"><stop offset="0" stop-color="#fff"/><stop offset="1" stop-color="#000"/></radialGradient>
  <mask id="mk3"><rect width="1270" height="851" fill="url(#rg3)"/></mask>
  <clipPath id="cp3"><rect x="117" y="404" width="1081" height="273"/><rect x="109" y="688" width="1090" height="46"/></clipPath>
 </defs>
 <g clip-path="url(#cp3)" mask="url(#mk3)" stroke="#b8ccf0" stroke-width="1" opacity="0.35"><line x1="650" y1="900" x2="1075" y2="560" stroke-opacity="0.42"/><line x1="664" y1="900" x2="1089" y2="560" stroke-opacity="0.74"/><line x1="675" y1="900" x2="1100" y2="560" stroke-opacity="0.45"/><line x1="690" y1="900" x2="1115" y2="560" stroke-opacity="0.87"/><line x1="702" y1="900" x2="1127" y2="560" stroke-opacity="0.65"/><line x1="711" y1="900" x2="1136" y2="560" stroke-opacity="0.30"/><line x1="722" y1="900" x2="1147" y2="560" stroke-opacity="0.71"/><line x1="730" y1="900" x2="1155" y2="560" stroke-opacity="0.86"/><line x1="740" y1="900" x2="1165" y2="560" stroke-opacity="0.46"/><line x1="747" y1="900" x2="1172" y2="560" stroke-opacity="1.00"/><line x1="761" y1="900" x2="1186" y2="560" stroke-opacity="0.91"/><line x1="774" y1="900" x2="1199" y2="560" stroke-opacity="0.32"/><line x1="785" y1="900" x2="1210" y2="560" stroke-opacity="0.65"/><line x1="793" y1="900" x2="1218" y2="560" stroke-opacity="0.97"/><line x1="804" y1="900" x2="1229" y2="560" stroke-opacity="0.41"/><line x1="819" y1="900" x2="1244" y2="560" stroke-opacity="0.39"/><line x1="834" y1="900" x2="1259" y2="560" stroke-opacity="0.62"/><line x1="847" y1="900" x2="1272" y2="560" stroke-opacity="0.54"/><line x1="858" y1="900" x2="1283" y2="560" stroke-opacity="0.43"/><line x1="866" y1="900" x2="1291" y2="560" stroke-opacity="0.91"/><line x1="876" y1="900" x2="1301" y2="560" stroke-opacity="0.85"/><line x1="885" y1="900" x2="1310" y2="560" stroke-opacity="0.98"/><line x1="900" y1="900" x2="1325" y2="560" stroke-opacity="0.83"/><line x1="914" y1="900" x2="1339" y2="560" stroke-opacity="0.71"/><line x1="928" y1="900" x2="1353" y2="560" stroke-opacity="0.39"/><line x1="940" y1="900" x2="1365" y2="560" stroke-opacity="0.88"/><line x1="949" y1="900" x2="1374" y2="560" stroke-opacity="0.95"/><line x1="965" y1="900" x2="1390" y2="560" stroke-opacity="0.59"/><line x1="975" y1="900" x2="1400" y2="560" stroke-opacity="0.62"/><line x1="986" y1="900" x2="1411" y2="560" stroke-opacity="1.00"/><line x1="997" y1="900" x2="1422" y2="560" stroke-opacity="0.32"/><line x1="1005" y1="900" x2="1430" y2="560" stroke-opacity="0.80"/><line x1="1022" y1="900" x2="1447" y2="560" stroke-opacity="0.65"/><line x1="1033" y1="900" x2="1458" y2="560" stroke-opacity="0.69"/><line x1="1047" y1="900" x2="1472" y2="560" stroke-opacity="0.46"/><line x1="1060" y1="900" x2="1485" y2="560" stroke-opacity="0.69"/><line x1="1073" y1="900" x2="1498" y2="560" stroke-opacity="0.43"/><line x1="1082" y1="900" x2="1507" y2="560" stroke-opacity="0.54"/><line x1="1098" y1="900" x2="1523" y2="560" stroke-opacity="0.54"/><line x1="1110" y1="900" x2="1535" y2="560" stroke-opacity="0.51"/><line x1="1119" y1="900" x2="1544" y2="560" stroke-opacity="0.35"/></g>
</svg>
<div class="t serif" style="left:130px;top:701px;font-size:23px">基础智慧网络系统</div>
<div class="t" style="left:385px;top:701px;font-size:20px">网络交换路由系统</div>
<div class="t" style="left:632px;top:699px;font-size:20px">智慧无线网络系统</div>
<div class="t" style="left:908px;top:701px;font-size:20px">内外网安全防护系统</div>

<!-- section 5 -->
<div class="a" style="left:95px;top:744px;width:1117px;height:2px;background:#fff"></div>
<div class="a" style="left:1211px;top:737px;width:2px;height:14px;background:#fff"></div>
<div class="a" style="left:95px;top:751px;width:1117px;height:81px;border:2px solid #fff"></div>
<svg class="a" style="left:100px;top:755px" width="200" height="75" viewBox="100 755 200 75">
 <g fill="none" stroke="#eef8ff" stroke-width="2.9" stroke-linecap="round">
  <path d="M126,809.6 A10.8,10.8 0 0 1 124.5,788.3"/>
  <path d="M124.5,787.5 A21,21 0 0 1 165.6,781.4"/>
  <path d="M154.5,797 A15,15 0 1 1 174,811"/>
  <path d="M174,811.2 L137,811.2 Q130,811.2 130,804 L130,788.3"/>
  <path stroke-width="2.6" d="M136.5,807.5 V795 M136.5,799 q0,-3.8 3.3,-3.8 q3.3,0 3.3,3.8 v8.5 M143.1,799 q0,-3.8 3.3,-3.8 q3.3,0 3.3,3.8 v8.5"/>
 </g>
</svg>
<div class="t" style="left:194px;top:784px;font-size:24px;letter-spacing:0.8px">ImCloud</div>
<div class="t serif" style="left:325px;top:780px;font-size:23px">用户认证</div>
<div class="t serif" style="left:439px;top:780px;font-size:23px">数据画像</div>
<div class="t serif" style="left:553px;top:780px;font-size:23px">智能分析</div>
<div class="t serif" style="left:672px;top:780px;font-size:23px">精准营销</div>
<div class="t serif" style="left:792px;top:780px;font-size:23px">数据采集</div>
<div class="t" style="left:912px;top:780px;font-size:23px"><span style="font-size:21px;letter-spacing:-0.6px">IOT</span>互联</div>
<div class="t serif" style="left:1022px;top:780px;font-size:23px">智行算法</div>
<svg class="a" style="left:0;top:0" width="1270" height="851">
 <defs><clipPath id="cout"><path d="M1213,800 L1232,800 L1245,851 L1110,851 L1110,833 L1213,833 Z"/></clipPath></defs>
 <g clip-path="url(#cout)" stroke="#a03a8a" stroke-width="1.2" opacity="0.8">
<line x1="1100" y1="900" x2="1425" y2="640" stroke-opacity="0.99" stroke-dasharray="3 2"/>
<line x1="1126" y1="900" x2="1451" y2="640" stroke-opacity="0.92" stroke-dasharray="6 6"/>
<line x1="1149" y1="900" x2="1474" y2="640" stroke-opacity="0.94" stroke-dasharray="2 6"/>
<line x1="1166" y1="900" x2="1491" y2="640" stroke-opacity="0.62" stroke-dasharray="2 5"/>
<line x1="1195" y1="900" x2="1520" y2="640" stroke-opacity="0.95" stroke-dasharray="6 2"/>
<line x1="1210" y1="900" x2="1535" y2="640" stroke-opacity="0.87" stroke-dasharray="3 6"/>
<line x1="1228" y1="900" x2="1553" y2="640" stroke-opacity="0.51" stroke-dasharray="6 8"/>
<line x1="1244" y1="900" x2="1569" y2="640" stroke-opacity="0.96" stroke-dasharray="2 7"/>
<line x1="1261" y1="900" x2="1586" y2="640" stroke-opacity="0.99" stroke-dasharray="6 9"/>
<line x1="1288" y1="900" x2="1613" y2="640" stroke-opacity="0.53" stroke-dasharray="3 5"/>
<line x1="1305" y1="900" x2="1630" y2="640" stroke-opacity="0.94" stroke-dasharray="2 4"/>
<line x1="1324" y1="900" x2="1649" y2="640" stroke-opacity="0.64" stroke-dasharray="3 2"/>
<line x1="1346" y1="900" x2="1671" y2="640" stroke-opacity="0.79" stroke-dasharray="5 2"/>
<line x1="1372" y1="900" x2="1697" y2="640" stroke-opacity="0.62" stroke-dasharray="6 8"/>
<line x1="1388" y1="900" x2="1713" y2="640" stroke-opacity="0.66" stroke-dasharray="2 2"/>
<line x1="1415" y1="900" x2="1740" y2="640" stroke-opacity="0.52" stroke-dasharray="2 3"/>
<line x1="1437" y1="900" x2="1762" y2="640" stroke-opacity="0.52" stroke-dasharray="2 9"/>
<line x1="1457" y1="900" x2="1782" y2="640" stroke-opacity="0.66" stroke-dasharray="4 8"/>
 </g>
<circle cx="1252" cy="730" r="1.2" fill="#3040ff"/>
<circle cx="1244" cy="736" r="1.2" fill="#9040c0"/>
<circle cx="1236" cy="741" r="1.2" fill="#c040d0"/>
<circle cx="1232" cy="760" r="1.2" fill="#8050b0"/>
<circle cx="1240" cy="776" r="1.2" fill="#9040a0"/>
<circle cx="1228" cy="794" r="1.2" fill="#b040a0"/>
<circle cx="1216" cy="806" r="1.2" fill="#a04090"/>
<circle cx="1232" cy="812" r="1.2" fill="#c05080"/>
<circle cx="1266" cy="750" r="1.2" fill="#6040a0"/>
<circle cx="1256" cy="798" r="1.2" fill="#5040a0"/>
<circle cx="1244" cy="817" r="1.2" fill="#8040b0"/>
 <g fill="#0010e0"><rect x="0" y="688" width="4" height="3"/><rect x="14" y="698" width="4" height="2"/><rect x="27" y="705" width="5" height="3"/></g>
</svg>
</body></html>
